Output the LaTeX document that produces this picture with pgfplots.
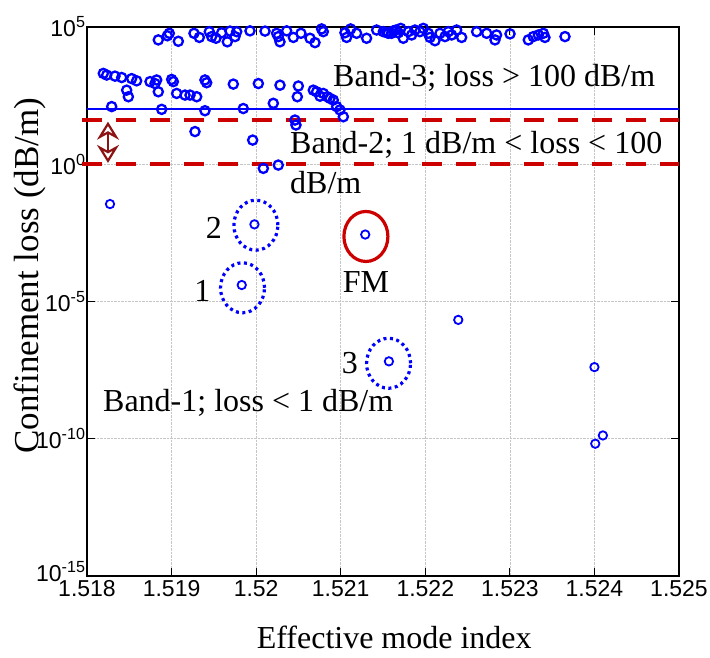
\documentclass[border=0pt]{standalone}
\usepackage{fontspec}
\setmainfont{Liberation Serif}
\newfontfamily\arial{Liberation Sans}
\usepackage{pgfplots}
\pgfplotsset{compat=1.18}
\usetikzlibrary{arrows.meta}
\definecolor{dred}{RGB}{205,0,0}
\definecolor{arrred}{RGB}{140,20,20}
\definecolor{mblue}{RGB}{0,0,255}
\begin{document}
\begin{tikzpicture}
\path[use as bounding box] (0,0) rectangle (710pt,657pt);
\begin{axis}[
  at={(87pt,81pt)}, anchor=south west,
  scale only axis, width=592pt, height=549pt,
  xmin=1.518, xmax=1.525, ymode=log, ymin=1e-15, ymax=1e5,
  xtick={1.518,1.519,1.520,1.521,1.522,1.523,1.524,1.525},
  xticklabels={1.518,1.519,1.52,1.521,1.522,1.523,1.524,1.525},
  ytick={1e-15,1e-10,1e-5,1,1e5},
  yticklabels={\raisebox{9pt}{10\textsuperscript{-15}},10\textsuperscript{-10},10\textsuperscript{-5},10\textsuperscript{0},10\textsuperscript{5}},
  minor y tick num=0,
  tick align=inside, major tick length=8pt,
  tick style={black, line width=1.2pt},
  grid=major, grid style={densely dotted, gray!45, line width=0.6pt},
  axis line style={line width=1.5pt},
  ticklabel style={font=\arial\fontsize{23}{23}\selectfont},
  xticklabel style={yshift=-1pt},
  yticklabel style={xshift=2pt},
  scaled x ticks=false,
  clip=false,
  xlabel={Effective mode index},
  ylabel={Confinement loss (dB/m)},
  xlabel style={font=\fontsize{32}{32}\selectfont, at={(axis description cs:0.519,-0.111)}, anchor=center},
  ylabel style={font=\fontsize{35}{35}\selectfont, at={(axis description cs:-0.0963,0.547)}, anchor=center},
]
% reference lines
\draw[mblue, line width=1.8pt] (axis cs:1.518,100) -- (axis cs:1.525,100);
\draw[dred, line width=4pt, dash pattern=on 20pt off 14pt] ([xshift=-5pt]axis cs:1.518,40.7) -- (axis cs:1.525,40.7);
\draw[dred, line width=4pt, dash pattern=on 20pt off 14pt] ([xshift=-5pt]axis cs:1.518,1) -- (axis cs:1.525,1);
\draw[arrred, line width=2.2pt, {Stealth[open,length=18pt,width=22pt,inset=6pt]}-{Stealth[open,length=18pt,width=22pt,inset=6pt]}] (axis cs:1.518248,35.5) -- (axis cs:1.518248,1.12);

% top band points
\addplot[only marks, mark=o, draw=mblue, line width=2.3pt, mark size=4.6pt] coordinates {
(1.518843,33884) (1.518950,47863) (1.518973,58884) (1.519080,30200) (1.519265,58884)
(1.519328,41687) (1.519446,67608) (1.519474,44668) (1.519525,38905) (1.519592,61660)
(1.519659,28840) (1.519691,70795) (1.519750,44668) (1.519770,67608) (1.519927,72444)
(1.520105,70795) (1.520242,58884) (1.520262,44668) (1.520282,28840) (1.520361,72444)
(1.520440,41687) (1.520530,58884) (1.520637,38905) (1.520696,26915) (1.520774,85114)
(1.520794,67608) (1.521050,61660) (1.521070,41687) (1.521117,85114) (1.521188,58884)
(1.521306,38905) (1.521425,77625) (1.521543,63096) (1.521602,58884) (1.521653,77625)
(1.521504,67608) (1.521563,58884) (1.521622,72444) (1.521681,61660) (1.521709,89125)
(1.521740,38905) (1.521800,67608) (1.521839,51286) (1.521878,77625) (1.521937,67608)
(1.521977,89125) (1.522036,58884) (1.522056,41687) (1.522115,31623) (1.522174,58884)
(1.522233,44668) (1.522272,67608) (1.522312,51286) (1.522371,77625) (1.522430,41687)
(1.522607,67608) (1.522726,58884) (1.522843,51286) (1.522824,33884) (1.523002,56234)
(1.523218,33884) (1.523277,44668) (1.523337,51286) (1.523396,58884) (1.523415,41687)
(1.523652,44668)
};
% second band points
\addplot[only marks, mark=o, draw=mblue, line width=2.3pt, mark size=4.6pt] coordinates {
(1.518193,2042) (1.518233,1778) (1.518331,1622) (1.518410,1445) (1.518469,501)
(1.518489,288) (1.518528,1318) (1.518587,1096) (1.518745,1023) (1.518804,871)
(1.518824,1175) (1.518843,437) (1.519001,1230) (1.519021,1023) (1.519060,380)
(1.519159,331) (1.519218,331) (1.519297,288) (1.519395,1175) (1.519415,933)
(1.519730,832) (1.520026,871) (1.520282,759) (1.520499,708) (1.520487,288)
(1.520676,501) (1.520715,437) (1.520755,302) (1.520794,380) (1.520842,288)
(1.520873,251) (1.520912,219) (1.520952,126) (1.520991,95.5) (1.521031,53.7)
(1.518292,126) (1.518883,100) (1.519395,89.1) (1.519848,107) (1.520203,166)
(1.520459,40.7) (1.520471,26.9) (1.519277,15.5) (1.519959,7.59)
(1.520085,0.708) (1.520262,0.933)
};
% low-loss points
\addplot[only marks, mark=o, draw=mblue, line width=1.8pt, mark size=4.2pt] coordinates {
(1.518272,3.55e-2) (1.51998,6.46e-3) (1.52129,2.75e-3) (1.51983,3.98e-5)
(1.52239,2.14e-6) (1.52157,6.61e-8) (1.52400,4.07e-8) (1.52401,6.61e-11)
(1.52410,1.32e-10)
};
% highlight ellipses
\draw[mblue, line width=3.2pt, dash pattern=on 3pt off 3.5pt] (axis cs:1.519997,6.03e-3) ellipse[x radius=22pt, y radius=25pt];
\draw[mblue, line width=3.2pt, dash pattern=on 3pt off 3.5pt] (axis cs:1.519839,3.16e-5) ellipse[x radius=22pt, y radius=25pt];
\draw[mblue, line width=3.2pt, dash pattern=on 3pt off 3.5pt] (axis cs:1.521566,5.62e-8) ellipse[x radius=22pt, y radius=25pt];
\draw[dred, line width=3.2pt] (axis cs:1.521298,2.34e-3) ellipse[x radius=22pt, y radius=25pt];
% labels
\node[font=\fontsize{32}{32}\selectfont] at (axis cs:1.519499,4.79e-3) {2};
\node[font=\fontsize{32}{32}\selectfont] at (axis cs:1.519363,2.45e-5) {1};
\node[font=\fontsize{32}{32}\selectfont] at (axis cs:1.521108,5.75e-8) {3};
\node[font=\fontsize{32}{32}\selectfont] at (axis cs:1.521298,5.0e-5) {FM};
\node[font=\fontsize{32}{32}\selectfont, anchor=west, inner sep=0pt] at (axis cs:1.520909,1380) {Band-3; loss > 100 dB/m};
\node[font=\fontsize{32}{32}\selectfont, anchor=west, inner sep=0pt] at (axis cs:1.5204,5.01) {Band-2; 1 dB/m < loss < 100};
\node[font=\fontsize{32}{32}\selectfont, anchor=west, inner sep=0pt] at (axis cs:1.5204,0.209) {dB/m};
\node[font=\fontsize{32}{32}\selectfont, anchor=west, inner sep=0pt] at (axis cs:1.518189,2.0e-9) {Band-1; loss < 1 dB/m};
\end{axis}
\end{tikzpicture}
\end{document}
